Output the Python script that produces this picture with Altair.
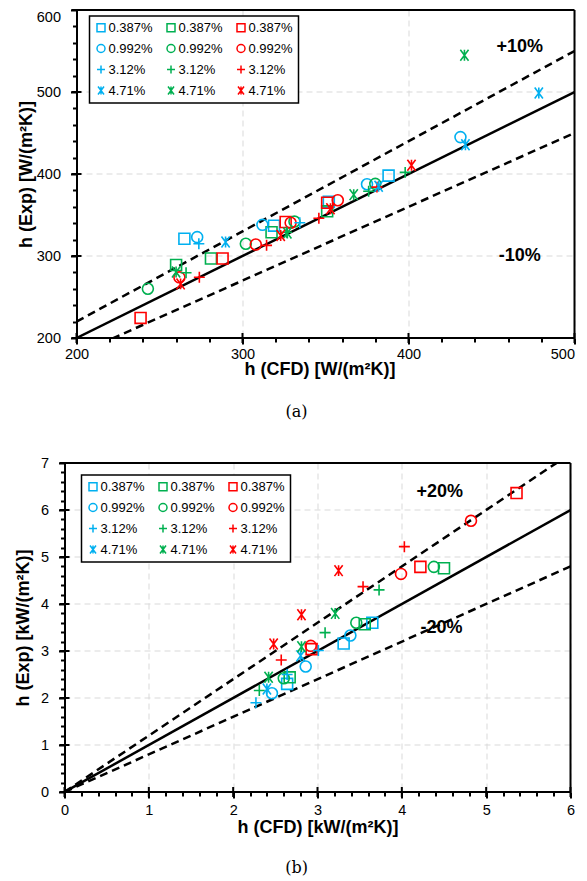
import altair as alt
import pandas as pd

# ---------------- (a) h in W/(m2K): (CFD, Exp) pairs -----------------
a_sq_blue = [(265, 321), (319, 337), (352, 366), (388, 398)]
a_sq_green = [(260, 289), (281, 297), (317.5, 329), (351, 354.5)]
a_sq_red = [(238.6, 224.5), (288, 297), (326, 341.5), (351, 365)]
a_ci_blue = [(272.7, 323), (312, 338), (375, 387.5), (431.3, 445)]
a_ci_green = [(243, 260), (302, 315), (331.3, 342), (380, 388)]
a_ci_red = [(262, 274), (308, 314), (329, 340.6), (357.4, 368)]
a_pl_blue = [(273.7, 315), (334.5, 340.6)]
a_pl_green = [(266, 279.6), (326.5, 329), (376, 379), (398, 402)]
a_pl_red = [(274, 274), (314.5, 313), (346, 346), (381, 384)]
a_as_blue = [(289.8, 317), (382, 385), (434.3, 435.7), (478.5, 498.8)]
a_as_green = [(260, 280.5), (327, 328), (367, 374.8), (433.7, 544.8)]
a_as_red = [(262.7, 266), (323, 325), (353, 357.7), (401.8, 410.6)]

# ---------------- (b) h in kW/(m2K): (CFD, Exp) pairs ----------------
b_sq_blue = [(2.64, 2.30), (3.31, 3.16), (3.65, 3.60)]
b_sq_green = [(2.67, 2.44), (3.56, 3.57), (4.50, 4.76)]
b_sq_red = [(2.93, 3.04), (4.22, 4.79), (5.36, 6.36)]
b_ci_blue = [(2.46, 2.10), (2.86, 2.67), (3.39, 3.33)]
b_ci_green = [(2.60, 2.42), (3.46, 3.60), (4.38, 4.79)]
b_ci_red = [(2.92, 3.11), (3.99, 4.64), (4.82, 5.77)]
b_pl_blue = [(2.27, 1.90), (2.64, 2.50), (3.01, 3.01)]
b_pl_green = [(2.31, 2.16), (3.09, 3.39), (3.73, 4.30)]
b_pl_red = [(2.57, 2.81), (3.54, 4.37), (4.03, 5.22)]
b_as_blue = [(2.40, 2.19), (2.80, 2.90)]
b_as_green = [(2.42, 2.44), (2.81, 3.09), (3.21, 3.80)]
b_as_red = [(2.48, 3.15), (2.81, 3.77), (3.25, 4.71)]

# ---------------- categories / styles ----------------
CONCS = ["0.387%", "0.992%", "3.12%", "4.71%"]
MARKERS = ["sq", "ci", "pl", "as"]
COLORS = ["blue", "green", "red"]
COLOR_HEX = ["#00B0F0", "#00B050", "#FF0000"]
SHAPES = ["square", "circle", "M-1,0L1,0M0,-1L0,1",
          "M-0.75,-1L0.75,1M-0.75,1L0.75,-1M0,-1L0,1"]

# axis ranges and tick values
a_xrange = [200, 500]
a_yrange = [200, 600]
a_xvals = list(range(200, 501, 20))
a_yvals = list(range(200, 601, 20))
a_major = [200, 300, 400, 500, 600]
b_xrange = [0, 6]
b_yrange = [0, 7]
b_xvals = [i / 5 for i in range(0, 31)]
b_yvals = [i / 5 for i in range(0, 36)]
b_major = [0, 1, 2, 3, 4, 5, 6, 7]

# reference lines (parity and bands) and band labels
a_band = 0.10
a_band_text = ["+10%", "-10%"]
a_band_text_x = [467, 467]
a_band_text_y = [555, 300]
b_band = 0.20
b_band_text = ["+20%", "-20%"]
b_band_text_x = [4.45, 4.47]
b_band_text_y = [6.39, 3.49]

a_series = {
    ("sq", "blue"): a_sq_blue, ("sq", "green"): a_sq_green, ("sq", "red"): a_sq_red,
    ("ci", "blue"): a_ci_blue, ("ci", "green"): a_ci_green, ("ci", "red"): a_ci_red,
    ("pl", "blue"): a_pl_blue, ("pl", "green"): a_pl_green, ("pl", "red"): a_pl_red,
    ("as", "blue"): a_as_blue, ("as", "green"): a_as_green, ("as", "red"): a_as_red,
}
b_series = {
    ("sq", "blue"): b_sq_blue, ("sq", "green"): b_sq_green, ("sq", "red"): b_sq_red,
    ("ci", "blue"): b_ci_blue, ("ci", "green"): b_ci_green, ("ci", "red"): b_ci_red,
    ("pl", "blue"): b_pl_blue, ("pl", "green"): b_pl_green, ("pl", "red"): b_pl_red,
    ("as", "blue"): b_as_blue, ("as", "green"): b_as_green, ("as", "red"): b_as_red,
}

# legend fills column by column: one colour per column, one marker per row
keys, key_colors, key_shapes = [], [], []
for ci, c in enumerate(COLORS):
    for mi, m in enumerate(MARKERS):
        keys.append(f"{c}{m}|{CONCS[mi]}")
        key_colors.append(COLOR_HEX[ci])
        key_shapes.append(SHAPES[mi])

MAJOR_TEST = "indexof([" + ",".join(str(v) for v in a_major + b_major) + "], datum.value) >= 0"


def points_df(series):
    rows = []
    for mi, m in enumerate(MARKERS):
        for c in COLORS:
            for (x, y) in series[(m, c)]:
                rows.append({"x": x, "y": y, "key": f"{c}{m}|{CONCS[mi]}"})
    return pd.DataFrame(rows)


def ref_df(xr, band):
    rows = []
    for name, f in [("parity", 1.0), ("upper", 1.0 + band), ("lower", 1.0 - band)]:
        for x in xr:
            rows.append({"x": x, "y": x * f, "id": name})
    return pd.DataFrame(rows)


def make_axis(title, vals, lp, tp, **extra):
    return alt.Axis(
        title=title, values=vals,
        labelExpr=f"({MAJOR_TEST}) ? format(datum.value, 'd') : ''",
        tickSize={"condition": {"test": MAJOR_TEST, "value": 6}, "value": 4},
        labelPadding=lp, titlePadding=tp, labelFlush=False, labelOverlap=False,
        **extra,
    )


def panel(series, xr, yr, xstart, xvals, yvals, majors, xtitle, ytitle, band,
          ttext, tx, ty, caption, cap_dx, cap_off, lx, ly, w, h, ytp, yoff, xlp, xtp,
          xextra, yextra):
    X = alt.X("x:Q", scale=alt.Scale(domain=[xstart, xr[1]], nice=False, zero=False),
              axis=make_axis(xtitle, xvals, xlp, xtp, domain=False,
                             gridOpacity={"condition": {"test": MAJOR_TEST, "value": 1},
                                          "value": 0}, **xextra))
    Y = alt.Y("y:Q", scale=alt.Scale(domain=yr, nice=False, zero=False),
              axis=make_axis(ytitle, yvals, 10, ytp, grid=False, offset=yoff, **yextra))
    # horizontal grid lines and the three remaining frame edges
    ymaj = [v for v in majors if yr[0] < v < yr[1]]
    gdf = pd.DataFrame({"x": [xr[0]] * len(ymaj), "x2": [xr[1]] * len(ymaj),
                        "y": ymaj, "y2": ymaj})
    fdf = pd.DataFrame({"x": [xr[0], xr[0], xr[1]], "x2": [xr[1], xr[1], xr[1]],
                        "y": [yr[0], yr[1], yr[0]], "y2": [yr[0], yr[1], yr[1]]})
    grid = alt.Chart(gdf).mark_rule(color="#d9d9d9", strokeWidth=1, strokeDash=[6, 4]).encode(
        x=X, x2="x2:Q", y=Y, y2="y2:Q")
    frame = alt.Chart(fdf).mark_rule(color="black", strokeWidth=2).encode(
        x=X, x2="x2:Q", y=Y, y2="y2:Q")
    # major ticks cross the axis lines (inner half)
    xmaj = [v for v in majors if xr[0] <= v <= xr[1]]
    ymaj_all = [v for v in majors if yr[0] <= v <= yr[1]]
    xt = alt.Chart(pd.DataFrame({"x": xmaj, "y": [yr[0]] * len(xmaj)})).mark_tick(
        orient="vertical", size=10, thickness=2, color="black", opacity=1).encode(x=X, y=Y)
    yt = alt.Chart(pd.DataFrame({"x": [xr[0]] * len(ymaj_all), "y": ymaj_all})).mark_tick(
        orient="horizontal", size=10, thickness=2, color="black", opacity=1).encode(x=X, y=Y)
    rdf = ref_df(xr, band)
    solid = alt.Chart(rdf[rdf.id == "parity"]).mark_line(
        clip=True, color="black", strokeWidth=2.5).encode(x=X, y=Y)
    dashed = alt.Chart(rdf[rdf.id != "parity"]).mark_line(
        clip=True, color="black", strokeWidth=2.5, strokeDash=[8, 5]).encode(
        x=X, y=Y, detail="id:N")
    leg = alt.Legend(
        title=None, orient="none", legendX=lx, legendY=ly, columns=3,
        symbolSize=64, symbolStrokeWidth=1.5, labelFont="Liberation Sans",
        labelFontSize=13, labelColor="black",
        labelExpr="split(datum.label, '|')[1]",
        strokeColor="black", fillColor="white", padding=5,
        rowPadding=6, columnPadding=10, labelOffset=1,
    )
    pts = alt.Chart(points_df(series)).mark_point(
        filled=False, size=120, strokeWidth=1.6, opacity=1).encode(
        x=X, y=Y,
        color=alt.Color("key:N", scale=alt.Scale(domain=keys, range=key_colors), legend=leg),
        shape=alt.Shape("key:N", scale=alt.Scale(domain=keys, range=key_shapes), legend=leg),
    )
    tdf = pd.DataFrame({"x": tx, "y": ty, "label": ttext})
    txt = alt.Chart(tdf).mark_text(
        font="Liberation Sans", fontSize=18, fontWeight="bold", color="black").encode(
        x=X, y=Y, text="label:N")
    return alt.layer(grid, solid, dashed, pts, frame, xt, yt, txt).properties(
        width=w, height=h,
        view=alt.ViewBackground(stroke="transparent"),
        title=alt.TitleParams(caption, orient="bottom", anchor="middle",
                              font="DejaVu Serif", fontSize=16,
                              fontWeight="normal", color="black",
                              dx=cap_dx, offset=cap_off),
    )


# panel (a): plot area starts 12 px left of the x=200 axis so both panels share one origin
A_W = 510
a_xstart = a_xrange[1] - (a_xrange[1] - a_xrange[0]) * A_W / 498

top = panel(a_series, a_xrange, a_yrange, a_xstart, a_xvals, a_yvals, a_major,
            "h (CFD) [W/(m²K)]", "h (Exp) [W/(m²K)]", a_band,
            a_band_text, a_band_text_x, a_band_text_y,
            "(a)", -23, 25, 25, 6, A_W, 328, 1, -12, 3, 0,
            {"labelAlign": {"condition": {"test": "datum.value === 500", "value": "right"},
                            "value": "center"}},
            {"labelBaseline": {"condition": {"test": "datum.value === 600", "value": "top"},
                               "value": "middle"}})
bottom = panel(b_series, b_xrange, b_yrange, b_xrange[0], b_xvals, b_yvals, b_major,
               "h (CFD) [kW/(m²K)]", "h (Exp) [kW/(m²K)]", b_band,
               b_band_text, b_band_text_x, b_band_text_y,
               "(b)", -21, 23, 17, 12, 506, 329, 7.5, 0, 5, 2, {}, {})

chart = alt.vconcat(top, bottom, spacing=34).resolve_scale(
    color="independent", shape="independent").resolve_legend(
    color="independent", shape="independent").properties(
    padding={"left": 5.5, "top": 0, "right": 0, "bottom": 0}
).configure_axis(
    domainColor="black", domainWidth=2, tickColor="black", tickWidth=2,
    gridColor="#d9d9d9", gridDash=[6, 4], gridWidth=1,
    labelFont="Liberation Sans", labelFontSize=14.5, labelColor="black",
    titleFont="Liberation Sans", titleFontSize=18, titleFontWeight="bold",
    titleColor="black",
).configure_legend(strokeWidth=1.5)

chart.save("out.html", embed_options={"renderer": "svg", "actions": False})
